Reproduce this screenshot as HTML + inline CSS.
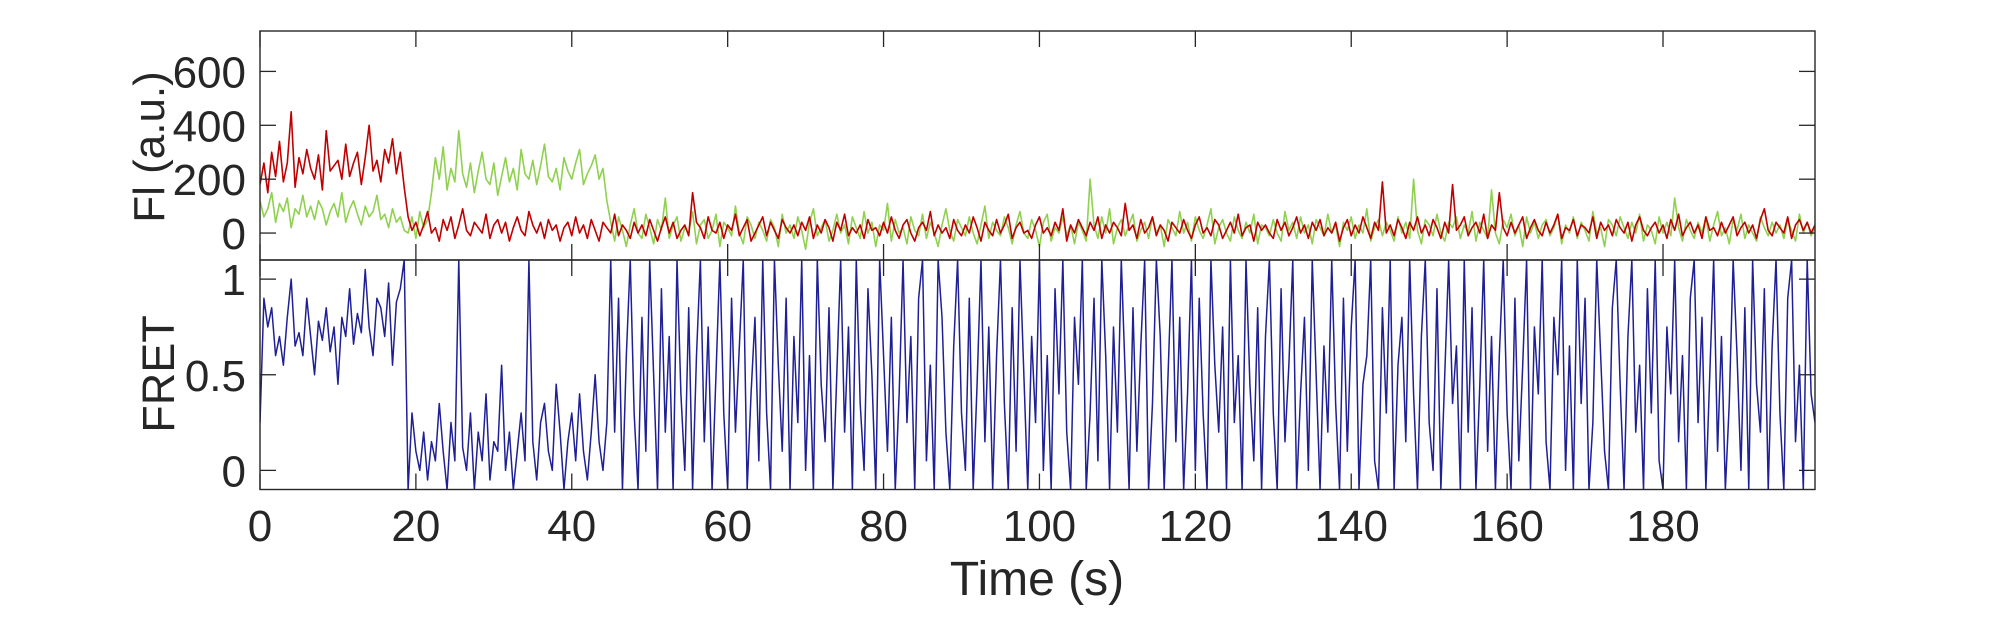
<!DOCTYPE html>
<html><head><meta charset="utf-8"><style>
html,body{margin:0;padding:0;background:#fff;}
svg{display:block;font-family:"Liberation Sans",Arial,sans-serif;}
</style></head><body>
<svg id="chart" width="2005" height="625" viewBox="0 0 2005 625" xmlns="http://www.w3.org/2000/svg">
<defs>
<clipPath id="clipTop"><rect x="260" y="31" width="1555" height="229"/></clipPath>
<clipPath id="clipBot"><rect x="260" y="260" width="1555" height="229.5"/></clipPath>
</defs>
<g id="topMarks" clip-path="url(#clipTop)"></g>
<g id="botMarks" clip-path="url(#clipBot)"></g>
<g id="axes"></g>
<text x="0" y="0" transform="translate(164,147) rotate(-90)" text-anchor="middle" font-size="44" fill="#262626">Fl (a.u.)</text>
<text x="0" y="0" transform="translate(174,374) rotate(-90)" text-anchor="middle" font-size="45" fill="#262626">FRET</text>
<text x="1037" y="595" text-anchor="middle" font-size="48" fill="#262626">Time (s)</text>
</svg>
<script>
const dt = 0.5;
const xTicks = [0,20,40,60,80,100,120,140,160,180];
const fiTicks = [0,200,400,600];
const fretTicks = [0,0.5,1];
const fretTickLabels = ["0","0.5","1"];
const acceptor = [180,260,150,300,210,340,190,260,450,170,280,220,310,240,200,290,160,380,230,250,270,200,330,210,260,300,180,280,400,230,270,190,310,260,350,220,300,170,
60,10,40,-10,30,80,0,20,-30,50,10,60,-20,30,90,10,-10,40,20,0,
70,-20,30,50,0,40,-30,20,60,10,-10,80,30,0,40,-20,50,10,30,-30,
20,40,-10,60,0,30,-20,50,10,-30,40,20,0,70,-10,30,10,-20,40,0,
30,-10,50,10,-30,20,60,0,40,-20,10,30,-10,150,40,20,-20,60,10,0,
40,-20,30,10,70,-10,20,50,-30,0,30,60,-10,40,10,-20,50,20,0,30,
-10,40,10,60,-20,30,0,50,20,-30,40,10,70,-10,20,0,30,-20,50,10,
20,-10,40,0,60,10,-20,30,50,0,-30,20,40,10,80,-10,30,0,20,-20,
50,10,-10,30,0,60,20,-30,40,10,-10,50,0,30,70,-20,20,40,0,10,
-20,30,60,0,20,-10,40,10,90,-30,30,0,50,20,-10,40,10,60,-20,30,
0,40,20,-10,110,10,30,-20,50,0,20,60,-10,30,10,-30,40,20,0,50,
10,-20,30,60,0,20,-10,50,30,-20,10,40,0,70,-10,20,30,-30,40,10,
30,0,-20,50,10,40,-10,20,60,0,30,-20,40,10,50,-10,20,0,40,-30,
20,50,-10,30,0,60,20,-20,40,10,190,0,30,-10,50,20,-20,40,10,60,
0,30,-10,50,20,-20,40,0,180,10,30,60,-10,20,40,0,70,-20,30,10,
150,20,-10,40,0,30,60,-20,20,50,10,-10,40,0,30,70,-20,20,10,50,
-10,30,20,0,60,-20,40,10,30,-10,50,20,0,40,-30,30,60,10,-10,20,
40,0,30,-20,50,10,70,-10,20,40,0,30,-20,60,10,20,-10,40,0,30,
60,-10,20,40,0,30,-20,50,90,10,-10,40,20,0,60,-20,30,50,10,40,
0,30];
const donor = [120,60,90,150,40,110,80,130,20,90,70,140,60,100,50,120,90,30,80,110,60,150,40,90,120,70,30,100,60,80,140,50,70,20,90,40,60,10,
0,60,-20,80,20,50,
150,280,200,320,160,240,190,380,220,170,260,150,230,300,200,180,260,140,210,280,190,240,160,310,220,200,270,180,250,330,210,190,240,160,280,230,200,260,310,180,220,250,290,200,240,120,
40,-30,60,10,-50,30,90,0,-20,70,20,-40,50,10,130,-20,30,60,-30,20,
0,80,-40,30,50,-20,10,70,-50,40,20,-10,100,0,-40,60,30,-20,40,10,
-30,50,20,-50,70,0,30,-20,60,10,-60,40,90,-10,20,50,-30,10,70,0,
30,-40,60,20,-20,80,0,40,-50,30,10,110,-30,50,0,20,-40,60,10,-10,
70,-20,40,0,-50,30,90,10,-30,50,20,-10,60,0,-40,30,100,-20,40,10,
-10,60,20,-40,30,80,0,-20,50,10,-50,40,70,-30,20,0,60,-10,30,-40,
40,10,-30,200,30,-20,60,0,90,-40,20,50,-10,30,70,-30,10,40,-20,60,
0,30,-50,50,20,-10,80,0,40,-30,60,10,-20,30,90,-40,20,50,0,-30,
60,10,-20,40,0,70,-40,30,20,-10,50,0,-30,80,10,40,-20,60,0,30,
-40,50,20,-10,70,0,30,-50,40,10,60,-20,30,0,90,-30,20,50,-10,40,
10,-30,60,0,40,-20,200,10,-40,50,30,-10,70,0,-30,40,20,60,-20,30,
0,80,-30,40,10,-20,160,0,-40,50,20,70,-10,30,-50,60,0,40,-20,30,
50,-10,20,70,-40,30,0,60,-20,40,10,-30,80,0,20,-50,50,30,-10,60,
20,-20,40,0,70,-30,30,10,-40,60,0,40,-10,130,20,-30,50,10,-20,40,
0,60,-30,30,80,-10,20,-40,50,10,70,-20,30,0,-30,60,20,-10,40,0,
30,-20,50,10,-30,70,0,40,-10,20];
const fret = [0.25,0.9,0.75,0.85,0.6,0.7,0.55,0.8,1.0,0.65,0.72,0.6,0.9,0.7,0.5,0.78,0.68,0.85,0.62,0.75,0.45,0.8,0.7,0.95,0.66,0.82,0.72,1.05,0.75,0.6,0.9,0.85,0.7,0.98,0.55,0.88,0.95,1.1,
-0.1,0.3,0.1,0.0,0.2,-0.05,0.15,0.05,0.35,0.1,-0.1,0.25,0.05,1.1,0.12,0.0,0.3,-0.1,0.2,0.05,0.4,-0.05,0.15,0.1,0.55,0.0,0.2,-0.1,0.1,0.3,0.05,1.1,0.15,-0.05,0.25,0.35,0.1,0.0,0.45,0.2,-0.1,0.15,0.3,0.05,0.4,0.1,-0.05,0.2,0.5,0.15,0.0,0.25,
1.1,0.2,0.9,-0.1,0.6,1.1,0.3,-0.1,0.8,0.1,1.1,0.5,-0.1,0.95,0.2,0.7,-0.1,1.1,0.4,0.0,
0.85,-0.1,0.6,1.1,0.15,0.75,-0.1,0.5,1.1,0.3,-0.1,0.9,0.2,0.65,1.1,-0.1,0.4,0.8,0.05,1.1,
0.3,-0.1,1.1,0.55,0.1,0.9,-0.1,0.7,0.25,1.1,0.0,0.6,-0.1,1.1,0.45,0.15,0.85,-0.1,0.5,1.1,
0.2,0.75,-0.1,1.1,0.35,0.0,0.95,0.5,-0.1,1.1,0.6,0.1,0.8,-0.1,0.4,1.1,0.25,0.7,-0.1,0.9,
1.1,0.05,0.55,-0.1,1.1,0.8,0.2,-0.1,0.65,1.1,0.3,0.0,0.9,-0.1,0.45,1.1,0.15,0.75,-0.1,0.6,
1.1,0.35,-0.1,0.85,0.1,1.1,0.5,-0.1,0.7,0.25,1.1,0.0,0.6,-0.1,0.95,0.4,1.1,0.2,-0.1,0.8,
0.45,1.1,-0.1,0.3,0.9,0.05,1.1,0.6,-0.1,0.75,0.2,1.1,0.5,-0.1,0.85,0.1,0.65,1.1,-0.1,0.35,
1.1,0.7,-0.1,0.5,1.1,0.15,0.8,-0.1,0.4,1.1,0.0,0.9,0.3,-0.1,1.1,0.55,0.2,0.75,-0.1,1.1,
0.25,0.6,-0.1,1.1,0.45,0.05,0.85,-0.1,0.7,1.1,0.3,-0.1,0.95,0.15,0.55,1.1,-0.1,0.4,0.8,0.0,
1.1,0.5,-0.1,0.65,0.2,1.1,0.35,-0.1,0.9,0.1,0.75,1.1,-0.1,0.45,0.6,1.1,0.05,-0.1,0.85,0.3,
1.1,-0.1,0.55,0.8,0.15,1.1,0.4,-0.1,0.7,1.1,0.25,0.0,0.95,-0.1,0.5,1.1,0.35,0.65,-0.1,1.1,
0.2,0.85,-0.1,0.45,1.1,0.1,0.7,-0.1,0.6,1.1,0.3,-0.1,0.9,0.05,0.55,1.1,-0.1,0.75,0.4,1.1,
0.15,-0.1,0.8,0.5,1.1,0.0,0.65,-0.1,1.1,0.35,0.9,-0.1,0.25,1.1,0.6,0.1,-0.1,0.85,1.1,0.45,
-0.1,0.7,1.1,0.2,0.55,-0.1,0.95,0.3,1.1,0.05,-0.1,0.75,0.4,1.1,0.15,0.6,-0.1,0.9,1.1,0.25,
0.8,-0.1,0.5,1.1,0.1,0.7,-0.1,0.35,1.1,0.6,0.0,0.85,-0.1,1.1,0.45,0.2,0.95,-0.1,0.65,1.1,
0.3,-0.1,0.9,1.1,0.15,0.55,-0.1,1.1,0.4,0.25];

const NS = "http://www.w3.org/2000/svg";
const L = 260, R = 1815;
const X0 = 0, X1 = 199.5;
const sx = t => L + (t - X0) / (X1 - X0) * (R - L);
const TT = 31, TB = 260, FI0 = -100, FI1 = 750;
const syTop = v => TB - (v - FI0) / (FI1 - FI0) * (TB - TT);
const BT = 260, BB = 489.5, FR0 = -0.1, FR1 = 1.1;
const syBot = v => BB - (v - FR0) / (FR1 - FR0) * (BB - BT);

function mk(tag, attrs, parent){
  const e = document.createElementNS(NS, tag);
  for (const k in attrs) e.setAttribute(k, attrs[k]);
  parent.appendChild(e);
  return e;
}
function pathFor(arr, sy){
  let d = "";
  arr.forEach((v,i)=>{ d += (i?"L":"M") + sx(i*dt).toFixed(2) + " " + sy(v).toFixed(2); });
  return d;
}
const topG = document.getElementById("topMarks");
const botG = document.getElementById("botMarks");
const gLine = mk("path",{d:pathFor(donor,syTop),fill:"none",stroke:"#8fd14f","stroke-width":"1.6","stroke-linejoin":"round"},topG);


const rLine = mk("path",{d:pathFor(acceptor,syTop),fill:"none",stroke:"#c00000","stroke-width":"1.6","stroke-linejoin":"round"},topG);


const fLine = mk("path",{d:pathFor(fret,syBot),fill:"none",stroke:"#1f1f96","stroke-width":"1.5","stroke-linejoin":"round"},botG);



const ax = document.getElementById("axes");
const ac = "#262626";
const b1 = mk("rect",{x:L,y:TT,width:R-L,height:TB-TT,fill:"none",stroke:ac,"stroke-width":"1.4"},ax);


const b2 = mk("rect",{x:L,y:BT,width:R-L,height:BB-BT,fill:"none",stroke:ac,"stroke-width":"1.4"},ax);


const tl = 16;
xTicks.forEach(t=>{
  const x = sx(t);
  mk("line",{x1:x,y1:BB,x2:x,y2:BB-tl,stroke:ac,"stroke-width":"1.3"},ax);
  mk("line",{x1:x,y1:BT,x2:x,y2:BT+tl,stroke:ac,"stroke-width":"1.3"},ax);
  mk("line",{x1:x,y1:TB,x2:x,y2:TB-tl,stroke:ac,"stroke-width":"1.3"},ax);
  mk("line",{x1:x,y1:TT,x2:x,y2:TT+tl,stroke:ac,"stroke-width":"1.3"},ax);
  const lb = mk("text",{x:x,y:541,"text-anchor":"middle","font-size":"44",fill:ac},ax);
  lb.textContent = String(t);
  
  
});
fiTicks.forEach(v=>{
  const y = syTop(v);
  mk("line",{x1:L,y1:y,x2:L+tl,y2:y,stroke:ac,"stroke-width":"1.3"},ax);
  mk("line",{x1:R,y1:y,x2:R-tl,y2:y,stroke:ac,"stroke-width":"1.3"},ax);
  const lb = mk("text",{x:246,y:y+16,"text-anchor":"end","font-size":"44",fill:ac},ax);
  lb.textContent = String(v);
  
  
});
fretTicks.forEach((v,i)=>{
  const y = syBot(v);
  mk("line",{x1:L,y1:y,x2:L+tl,y2:y,stroke:ac,"stroke-width":"1.3"},ax);
  mk("line",{x1:R,y1:y,x2:R-tl,y2:y,stroke:ac,"stroke-width":"1.3"},ax);
  const lb = mk("text",{x:246,y:y+16,"text-anchor":"end","font-size":"44",fill:ac},ax);
  lb.textContent = fretTickLabels[i];
  
  
});
</script>
</body></html>
